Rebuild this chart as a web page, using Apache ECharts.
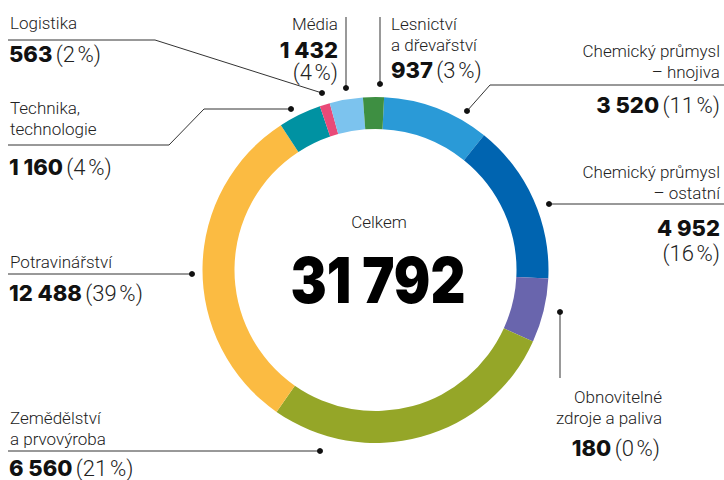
<!DOCTYPE html>
<html>
<head>
<meta charset="utf-8">
<script src="https://cdn.jsdelivr.net/npm/echarts@6/dist/echarts.min.js"></script>
<style>
  html, body { margin: 0; background: #fff; }
  #chart { width: 724px; height: 480px; }
</style>
</head>
<body>
<div id="chart"></div>
<script>
// categories clockwise from the top of the ring
const categories = [
  'Chemický průmysl\n– hnojiva',
  'Chemický průmysl\n– ostatní',
  'Obnovitelné\nzdroje a paliva',
  'Zemědělství\na prvovýroba',
  'Potravinářství',
  'Technika,\ntechnologie',
  'Logistika',
  'Média',
  'Lesnictví\na dřevařství'
]
const counts = [3520, 4952, 180, 6560, 12488, 1160, 563, 1432, 937]
const percents = [11, 16, 0, 21, 39, 4, 2, 4, 3]
// share of the ring as it is drawn in the picture (%)
const arcShares = [10.0, 15.0, 6.0, 27.9, 31.1, 4.0, 0.95, 3.1, 1.95]
const total = 31792
const totalLabel = 'Celkem'

const colors = ['#2a9ad7', '#0064b0', '#6965ad', '#95a628', '#fbbb42', '#0092a2', '#e94a78', '#7cc3ee', '#3e8f42']

// label placement: name block [x, first line centre, align], value block [x, centre, align, stacked line gap], leader line (dot at last point)
const layout = [
  { name: [720, 51, 'right'], value: [720, 105, 'right'], line: [[724, 85], [490, 85], [467, 111]] },
  { name: [720, 172, 'right'], value: [720, 228, 'right', 25], line: [[724, 204], [549, 204]] },
  { name: [662, 397, 'right'], value: [660, 448, 'right'], line: [[560, 378], [560, 312]], grey: true },
  { name: [10, 418, 'left'], value: [9, 468, 'left'], line: [[8, 451], [320, 451]] },
  { name: [10, 262, 'left'], value: [9, 293, 'left'], line: [[8, 274], [192, 274]] },
  { name: [10, 108, 'left'], value: [9, 167, 'left'], line: [[8, 145], [169, 145], [204, 109], [291, 109]] },
  { name: [10, 23, 'left'], value: [9, 54, 'left'], line: [[8, 40], [155, 40], [322, 93]] },
  { name: [338, 24, 'right'], value: [338, 50, 'right', 22], line: [[346, 17], [346, 88]], grey: true },
  { name: [391, 24, 'left'], value: [391, 70, 'left'], line: [[380, 17], [380, 84]], grey: true }
]

const LH = 20.5
const labelFont = 'Roboto'
const numFont = 'Inter'

// no-break spaces keep the gaps in SVG text
function fmt(n, sep) {
  return String(n).replace(/\B(?=(\d{3})+(?!\d))/g, sep)
}

const chart = echarts.init(document.getElementById('chart'), null, { renderer: 'svg' })

const graphics = []
layout.forEach((l, i) => {
  graphics.push({
    type: 'polyline',
    silent: true,
    shape: { points: l.line },
    style: { stroke: l.grey ? '#777' : '#333', lineWidth: l.grey ? 1.5 : 1, fill: null }
  })
  const dot = l.line[l.line.length - 1]
  graphics.push({
    type: 'circle',
    silent: true,
    shape: { cx: dot[0], cy: dot[1], r: 3 },
    style: { fill: '#111' }
  })
  graphics.push({
    type: 'text',
    silent: true,
    x: l.name[0],
    y: l.name[1] - LH / 2,
    style: {
      text: categories[i],
      font: `300 17px ${labelFont}`,
      fill: '#222',
      align: l.name[2],
      verticalAlign: 'top',
      lineHeight: LH
    }
  })
  const gap = l.value[3]
  const lh = gap || 22
  graphics.push({
    type: 'text',
    silent: true,
    x: l.value[0],
    y: l.value[1] - lh / 2,
    style: {
      text: `{b|${fmt(counts[i], '\u00A0')}}${gap ? '\n' : '\u00A0'}{n|(${percents[i]}\u202F%)}`,
      align: l.value[2],
      verticalAlign: 'top',
      rich: {
        b: { font: `800 22px ${numFont}`, fill: '#111', lineHeight: lh, align: l.value[2] },
        n: { font: `300 22px ${labelFont}`, fill: '#222', lineHeight: lh, align: l.value[2] }
      }
    }
  })
})

graphics.push({
  type: 'text', silent: true, x: 379, y: 222,
  style: { text: totalLabel, font: `300 17px ${labelFont}`, fill: '#222', align: 'center', verticalAlign: 'middle' }
})
graphics.push({
  type: 'text', silent: true, x: 378, y: 280, scaleX: 0.86, originX: 0,
  style: {
    text: fmt(total, '\u00A0'),
    font: `900 63px ${numFont}`, fill: '#000',
    align: 'center', verticalAlign: 'middle'
  }
})

chart.setOption({
  animation: false,
  color: colors,
  series: [{
    type: 'pie',
    center: [375.5, 270],
    radius: [141, 173],
    startAngle: 87.15,
    clockwise: true,
    silent: true,
    label: { show: false },
    labelLine: { show: false },
    itemStyle: { borderWidth: 0 },
    data: categories.map((c, i) => ({ name: c, value: arcShares[i] }))
  }],
  graphic: graphics
})
</script>
</body>
</html>
